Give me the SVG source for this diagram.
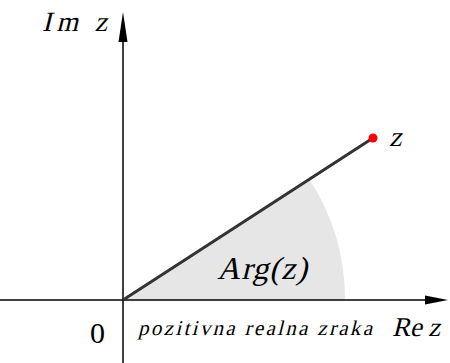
<svg xmlns="http://www.w3.org/2000/svg" width="450" height="363" viewBox="0 0 450 363">
<style>
.ax{stroke:#000;stroke-width:1.5;fill:none}
.lbl{font-family:"Liberation Serif","DejaVu Serif",serif;fill:#000}
</style>
<rect width="450" height="363" fill="#fff"/>
<g id="sector">
<path d="M123,300 L309.2,179.1 A222,222 0 0 1 345,300 Z" fill="#e6e6e6"/>
</g>
<g id="connectors">
<line class="ax" x1="0" y1="300" x2="430" y2="300"/>
<polygon points="448,300 425,295.5 425,304.5" fill="#000"/>
<line class="ax" x1="123" y1="363" x2="123" y2="38"/>
<polygon points="123,12 118.5,42 127.5,42" fill="#000"/>
<line x1="123" y1="300" x2="373" y2="138" stroke="#333" stroke-width="3"/>
</g>
<g id="point-z">
<circle cx="373" cy="138" r="4.5" fill="#f00"/>
<text class="lbl" transform="translate(389,146) skewX(-14)" font-size="28">z</text>
</g>
<g id="labels">
<text class="lbl" transform="translate(42,31) skewX(-14)" font-size="28" textLength="65" lengthAdjust="spacing">Im z</text>
<text class="lbl" transform="translate(217,279) skewX(-14)" font-size="32" textLength="90" lengthAdjust="spacing">Arg(z)</text>
<text x="90" y="343" font-size="30" font-family="Liberation Serif,serif">0</text>
<text class="lbl" transform="translate(138,335) skewX(-14)" font-size="21" textLength="234" lengthAdjust="spacing">pozitivna realna zraka</text>
<text class="lbl" transform="translate(392,336) skewX(-14)" font-size="27" textLength="48" lengthAdjust="spacing">Re z</text>
</g>
</svg>
